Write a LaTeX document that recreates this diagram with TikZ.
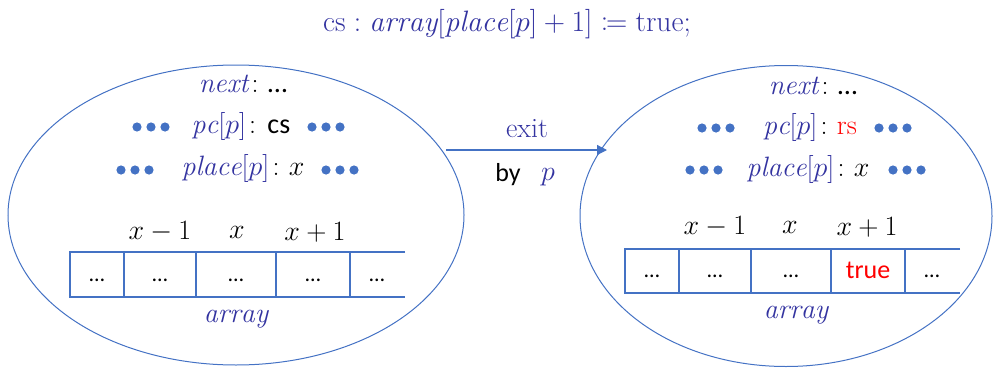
\RequirePackage{fix-cm}
\documentclass[tikz,border=0pt]{standalone}
\usepackage{mathtools}
\usepackage{fontspec}
\usetikzlibrary{shapes.geometric,arrows.meta}
\newfontfamily\calib{Carlito}
\definecolor{lblue}{HTML}{4472C4}
\definecolor{tblue}{HTML}{3333A0}
\definecolor{tred}{HTML}{FF0000}
\begin{document}
\begin{tikzpicture}[x=1pt,y=-1pt,
  ell/.style={draw=lblue, line width=1pt, ellipse, inner sep=0pt},
  ttl/.style={inner sep=0pt, font=\fontsize{29.5}{34}\selectfont},
  txt/.style={inner sep=0pt, font=\fontsize{28}{33}\selectfont},
  stxt/.style={inner sep=0pt, font=\calib\fontsize{26}{30}\selectfont},
  cell/.style={inner sep=0pt, font=\calib\fontsize{22}{26}\selectfont},
  arr/.style={draw=lblue, line width=1.2pt},
  dotc/.style={fill=lblue}
]
\useasboundingbox (0,0) rectangle (993,367);
% title
\node[ttl, text=tblue] (title) at (507,24) {$\mathrm{cs}:\mathit{array}[\mathit{place}[p]+1]\coloneqq\mathrm{true};$};

% ellipses
\node[ell, minimum width=456, minimum height=300] (L) at (236,215) {};
\node[ell, minimum width=412, minimum height=301] (R) at (786,216) {};

% ---------- left state
\node[txt] (Lnext) at (243,84) {$\color{tblue}\mathit{next}\color{black}\colon${\calib …}};
\node[txt] (Lpc) at (241,126) {$\color{tblue}\mathit{pc}[p]\color{black}\colon$\hspace{2pt}{\calib cs}};
\node[txt] (Lpl) at (243,168) {$\color{tblue}\mathit{place}[p]\color{black}\colon x$};
\foreach \cx in {137,151,165, 312,326,340} \fill[dotc] (\cx,127) circle (4.6);
\foreach \cx in {121,135,149, 326,340,354} \fill[dotc] (\cx,170) circle (4.6);
\node[txt] (Li1) at (160,232) {$x-1$};
\node[txt] (Li2) at (237,232) {$x$};
\node[txt] (Li3) at (315,232) {$x+1$};
\draw[arr] (405,252) -- (70,252) -- (70,297) -- (405,297);
\foreach \vx in {124,196,276,350} \draw[arr] (\vx,252) -- (\vx,297);
\node[cell] (Lc1) at (97,280) {…};
\node[cell] (Lc2) at (160,280) {…};
\node[cell] (Lc3) at (236,280) {…};
\node[cell] (Lc4) at (313,280) {…};
\node[cell] (Lc5) at (377,280) {…};
\node[txt, text=tblue] (Larr) at (236,319) {$\mathit{array}$};

% ---------- right state
\node[txt] (Rnext) at (813,86) {$\color{tblue}\mathit{next}\color{black}\colon${\calib …}};
\node[txt] (Rpc) at (810,127) {$\color{tblue}\mathit{pc}[p]\color{black}\colon\color{tred}\mathrm{rs}$};
\node[txt] (Rpl) at (808,169) {$\color{tblue}\mathit{place}[p]\color{black}\colon x$};
\foreach \cx in {702,716,730, 879,893,907} \fill[dotc] (\cx,128) circle (4.6);
\foreach \cx in {690,704,718, 893,907,921} \fill[dotc] (\cx,170) circle (4.6);
\node[txt] (Ri1) at (715,227) {$x-1$};
\node[txt] (Ri2) at (790,227) {$x$};
\node[txt] (Ri3) at (867,227) {$x+1$};
\draw[arr] (960,249) -- (625,249) -- (625,293) -- (960,293);
\foreach \vx in {679,751,831,905} \draw[arr] (\vx,249) -- (\vx,293);
\node[cell] (Rc1) at (652,276) {…};
\node[cell] (Rc2) at (715,276) {…};
\node[cell] (Rc3) at (791,276) {…};
\node[stxt, text=tred] (Rc4) at (868,270) {true};
\node[cell] (Rc5) at (932,276) {…};
\node[txt, text=tblue] (Rarr) at (796,315) {$\mathit{array}$};

% ---------- transition
\coordinate (a1) at (446,150);
\coordinate (a2) at (607,150);
\draw[arr, -{Triangle[length=10pt,width=10pt]}] (a1) -- (a2);
\node[txt, text=tblue] (exit) at (527,129) {$\mathrm{exit}$};
\node[stxt] (by) at (508,175) {by};
\node[txt, text=tblue] (byp) at (548,177) {$p$};
\end{tikzpicture}
\end{document}
